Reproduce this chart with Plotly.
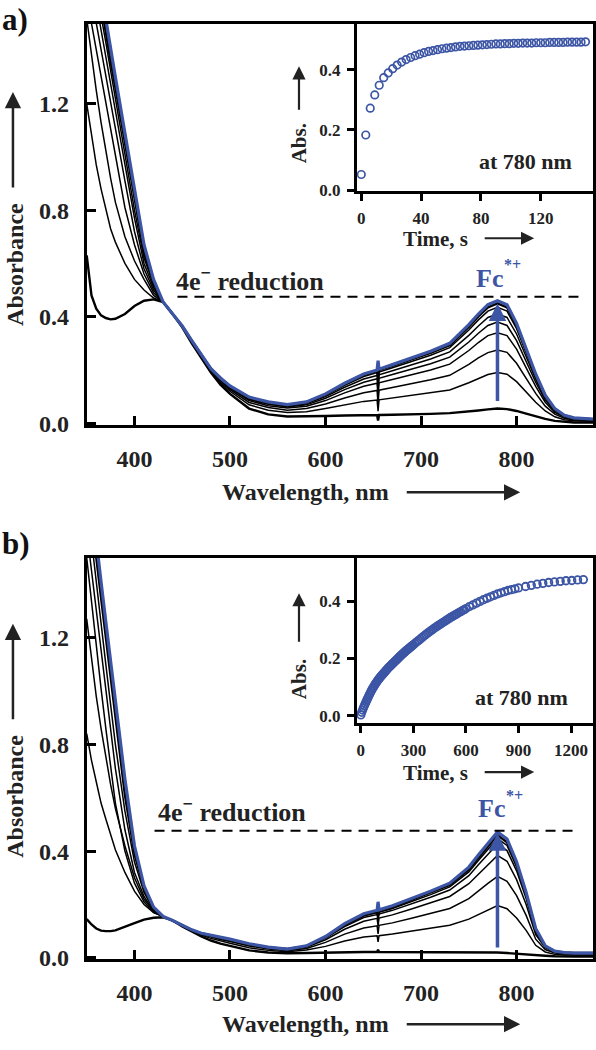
import plotly.graph_objects as go

W, H = 596, 1050
BLUE = "#3c55a5"
SERIF = "Liberation Serif, Times New Roman, serif"

# ---------------- data ----------------
wl = [350, 355, 360, 365, 370, 375, 380, 390, 400, 410, 420, 430, 440, 450, 460, 470, 480, 490, 500,
      520, 540, 560, 580, 600, 620, 640, 654, 655, 656, 670, 690, 710, 730, 750, 760, 770, 780, 790,
      800, 810, 820, 830, 840, 850, 860, 880]

# panel a spectra (a0 = initial ... a8 = final, blue)
a0 = [0.63, 0.48, 0.43, 0.405, 0.395, 0.39, 0.392, 0.41, 0.44, 0.46, 0.465, 0.455, 0.41, 0.36, 0.30, 0.245, 0.19, 0.145, 0.11,
      0.055, 0.033, 0.025, 0.025, 0.027, 0.029, 0.030, 0.031, 0.010, 0.031, 0.032, 0.033, 0.035, 0.038, 0.043, 0.048, 0.052, 0.055, 0.053,
      0.046, 0.036, 0.026, 0.016, 0.009, 0.005, 0.003, 0.003]
a1 = [1.20, 1.08, 0.97, 0.88, 0.80, 0.73, 0.68, 0.60, 0.54, 0.50, 0.47, 0.455, 0.41, 0.362, 0.303, 0.248, 0.195, 0.153, 0.12,
      0.069, 0.049, 0.040, 0.043, 0.055, 0.069, 0.082, 0.087, 0.045, 0.088, 0.095, 0.104, 0.113, 0.125, 0.152, 0.169, 0.183, 0.19, 0.184,
      0.156, 0.117, 0.079, 0.046, 0.024, 0.013, 0.009, 0.007]
a2 = [1.52, 1.38, 1.25, 1.13, 1.02, 0.92, 0.83, 0.70, 0.61, 0.54, 0.48, 0.455, 0.41, 0.363, 0.305, 0.25, 0.198, 0.159, 0.126,
      0.078, 0.059, 0.049, 0.055, 0.072, 0.095, 0.114, 0.123, 0.070, 0.124, 0.134, 0.148, 0.163, 0.18, 0.221, 0.245, 0.265, 0.275, 0.266,
      0.225, 0.168, 0.112, 0.064, 0.034, 0.019, 0.012, 0.010]
a3 = [1.60, 1.50, 1.40, 1.30, 1.20, 1.10, 1.00, 0.81, 0.67, 0.56, 0.49, 0.455, 0.41, 0.364, 0.307, 0.252, 0.20, 0.163, 0.131,
      0.085, 0.066, 0.057, 0.064, 0.085, 0.114, 0.139, 0.150, 0.100, 0.152, 0.164, 0.182, 0.20, 0.222, 0.273, 0.303, 0.329, 0.34, 0.329,
      0.278, 0.208, 0.138, 0.079, 0.041, 0.023, 0.015, 0.011]
a4 = [1.70, 1.60, 1.50, 1.40, 1.30, 1.20, 1.10, 0.91, 0.72, 0.58, 0.50, 0.455, 0.41, 0.364, 0.308, 0.253, 0.202, 0.165, 0.134,
      0.089, 0.071, 0.061, 0.069, 0.094, 0.126, 0.154, 0.167, 0.120, 0.169, 0.183, 0.203, 0.223, 0.248, 0.305, 0.338, 0.367, 0.38, 0.367,
      0.31, 0.232, 0.154, 0.087, 0.046, 0.025, 0.017, 0.013]
a5 = [1.78, 1.68, 1.58, 1.47, 1.37, 1.27, 1.17, 0.97, 0.77, 0.60, 0.51, 0.455, 0.41, 0.364, 0.309, 0.254, 0.203, 0.167, 0.136,
      0.093, 0.074, 0.064, 0.073, 0.10, 0.135, 0.166, 0.179, 0.140, 0.182, 0.197, 0.219, 0.241, 0.268, 0.33, 0.365, 0.397, 0.41, 0.397,
      0.335, 0.25, 0.165, 0.094, 0.049, 0.027, 0.018, 0.014]
a6 = [1.85, 1.74, 1.63, 1.53, 1.43, 1.32, 1.22, 1.01, 0.80, 0.62, 0.52, 0.455, 0.41, 0.365, 0.309, 0.254, 0.204, 0.168, 0.138,
      0.095, 0.077, 0.067, 0.077, 0.105, 0.142, 0.175, 0.19, 0.160, 0.192, 0.208, 0.232, 0.255, 0.284, 0.35, 0.388, 0.421, 0.435, 0.421,
      0.355, 0.265, 0.175, 0.099, 0.052, 0.028, 0.019, 0.014]
a7 = [1.90, 1.79, 1.68, 1.58, 1.47, 1.36, 1.26, 1.05, 0.84, 0.64, 0.53, 0.455, 0.41, 0.365, 0.31, 0.255, 0.205, 0.169, 0.139,
      0.097, 0.079, 0.069, 0.079, 0.108, 0.147, 0.181, 0.196, 0.170, 0.199, 0.215, 0.24, 0.264, 0.293, 0.362, 0.401, 0.435, 0.45, 0.435,
      0.367, 0.274, 0.181, 0.103, 0.054, 0.029, 0.020, 0.015]
a8 = [1.95, 1.84, 1.73, 1.62, 1.51, 1.40, 1.30, 1.09, 0.88, 0.67, 0.54, 0.455, 0.41, 0.365, 0.31, 0.255, 0.205, 0.17, 0.14,
      0.098, 0.08, 0.07, 0.08, 0.11, 0.15, 0.185, 0.20, 0.235, 0.203, 0.22, 0.245, 0.27, 0.30, 0.37, 0.41, 0.445, 0.46, 0.445,
      0.375, 0.28, 0.185, 0.105, 0.055, 0.03, 0.02, 0.015]

# panel b spectra
b0 = [0.145, 0.125, 0.11, 0.102, 0.10, 0.10, 0.103, 0.115, 0.13, 0.143, 0.15, 0.152, 0.14, 0.118, 0.098, 0.08, 0.065, 0.053, 0.045,
      0.028, 0.02, 0.017, 0.018, 0.02, 0.021, 0.022, 0.022, 0.030, 0.022, 0.022, 0.022, 0.022, 0.022, 0.021, 0.021, 0.021, 0.02, 0.018,
      0.015, 0.012, 0.01, 0.008, 0.006, 0.005, 0.005, 0.005]
b1 = [0.84, 0.74, 0.66, 0.58, 0.52, 0.46, 0.405, 0.32, 0.25, 0.20, 0.17, 0.155, 0.14, 0.12, 0.101, 0.085, 0.073, 0.063, 0.055,
      0.038, 0.028, 0.023, 0.029, 0.043, 0.063, 0.078, 0.083, 0.060, 0.083, 0.089, 0.10, 0.111, 0.122, 0.145, 0.163, 0.18, 0.196, 0.184,
      0.149, 0.103, 0.047, 0.022, 0.013, 0.011, 0.010, 0.010]
b2 = [1.27, 1.12, 0.98, 0.86, 0.75, 0.65, 0.56, 0.42, 0.30, 0.22, 0.175, 0.155, 0.14, 0.121, 0.102, 0.088, 0.078, 0.069, 0.061,
      0.044, 0.033, 0.027, 0.035, 0.058, 0.089, 0.112, 0.12, 0.09, 0.122, 0.131, 0.148, 0.166, 0.185, 0.222, 0.251, 0.279, 0.305, 0.287,
      0.233, 0.159, 0.07, 0.031, 0.018, 0.014, 0.013, 0.013]
b3 = [1.50, 1.33, 1.17, 1.01, 0.86, 0.71, 0.58, 0.40, 0.28, 0.21, 0.17, 0.155, 0.14, 0.121, 0.104, 0.09, 0.081, 0.073, 0.065,
      0.048, 0.036, 0.03, 0.04, 0.068, 0.107, 0.137, 0.148, 0.12, 0.149, 0.161, 0.183, 0.206, 0.23, 0.278, 0.314, 0.351, 0.384, 0.362,
      0.293, 0.20, 0.087, 0.038, 0.021, 0.017, 0.015, 0.015]
b4 = [1.60, 1.45, 1.30, 1.15, 1.00, 0.85, 0.71, 0.48, 0.32, 0.23, 0.175, 0.155, 0.14, 0.122, 0.104, 0.091, 0.083, 0.076, 0.068,
      0.05, 0.038, 0.031, 0.042, 0.074, 0.117, 0.151, 0.162, 0.14, 0.164, 0.178, 0.202, 0.227, 0.254, 0.308, 0.349, 0.389, 0.427, 0.402,
      0.326, 0.222, 0.096, 0.041, 0.023, 0.019, 0.017, 0.017]
b5 = [1.72, 1.56, 1.41, 1.26, 1.10, 0.95, 0.80, 0.55, 0.36, 0.245, 0.18, 0.155, 0.14, 0.122, 0.105, 0.091, 0.084, 0.077, 0.069,
      0.052, 0.039, 0.032, 0.044, 0.077, 0.122, 0.157, 0.169, 0.15, 0.171, 0.185, 0.211, 0.237, 0.266, 0.322, 0.365, 0.408, 0.447, 0.421,
      0.341, 0.232, 0.10, 0.043, 0.024, 0.019, 0.017, 0.017]
b6 = [1.80, 1.64, 1.50, 1.35, 1.20, 1.04, 0.89, 0.61, 0.39, 0.26, 0.185, 0.155, 0.14, 0.122, 0.105, 0.092, 0.084, 0.077, 0.069,
      0.052, 0.039, 0.033, 0.044, 0.078, 0.125, 0.161, 0.174, 0.16, 0.176, 0.19, 0.217, 0.244, 0.273, 0.331, 0.375, 0.419, 0.46, 0.433,
      0.351, 0.239, 0.102, 0.044, 0.024, 0.02, 0.018, 0.018]
b7 = [1.87, 1.71, 1.56, 1.41, 1.26, 1.11, 0.96, 0.67, 0.42, 0.27, 0.19, 0.155, 0.14, 0.122, 0.105, 0.092, 0.085, 0.078, 0.07,
      0.053, 0.04, 0.033, 0.045, 0.08, 0.128, 0.165, 0.178, 0.21, 0.18, 0.195, 0.222, 0.25, 0.28, 0.34, 0.385, 0.43, 0.472, 0.445,
      0.36, 0.245, 0.11, 0.045, 0.025, 0.02, 0.018, 0.018]

# inset a kinetics (780 nm)
ta = [0, 3, 6, 9, 12, 15, 18, 21, 24, 27, 30, 33, 36, 39, 42, 45, 48, 51, 54, 57, 60, 63, 66, 69, 72, 75,
      78, 81, 84, 87, 90, 93, 96, 99, 102, 105, 108, 111, 114, 117, 120, 123, 126, 129, 132, 135, 138, 141, 144, 147, 150]
ka = [0.052, 0.183, 0.272, 0.316, 0.348, 0.373, 0.389, 0.403, 0.415, 0.425, 0.433, 0.440, 0.446, 0.451, 0.456, 0.460,
      0.463, 0.466, 0.469, 0.471, 0.473, 0.475, 0.477, 0.478, 0.479, 0.480, 0.481, 0.482, 0.483, 0.484, 0.485, 0.485,
      0.486, 0.486, 0.487, 0.487, 0.488, 0.488, 0.488, 0.489, 0.489, 0.489, 0.490, 0.490, 0.490, 0.490, 0.491, 0.491,
      0.491, 0.491, 0.492]

# inset b kinetics (780 nm)
tb = [0, 5, 10, 15, 20, 25, 30, 35, 40, 45, 50, 55, 60, 65, 70, 75, 80, 85, 90, 95, 100, 105, 110, 115, 120, 125,
      130, 135, 140, 145, 150, 155, 160, 165, 170, 175, 180, 185, 190, 195, 200, 205, 210, 215, 220, 225, 230, 235,
      240, 245, 250, 255, 260, 265, 270, 275, 280, 285, 290, 295, 300,
      310, 320, 330, 340, 350, 360, 370, 380, 390, 400, 410, 420, 430, 440, 450, 460, 470, 480, 490, 500, 510, 520,
      530, 540, 550, 560, 570, 580, 590, 600,
      620, 640, 660, 680, 700, 720, 740, 760, 780, 800, 820, 840, 860, 880, 900,
      940, 973, 1006, 1039, 1072, 1105, 1138, 1171, 1204, 1237, 1270]
kb = [0.003, 0.012, 0.020, 0.028, 0.035, 0.042, 0.049, 0.056, 0.062, 0.069, 0.075, 0.081, 0.087, 0.093, 0.098, 0.103,
      0.108, 0.113, 0.117, 0.122, 0.126, 0.130, 0.134, 0.138, 0.141, 0.145, 0.148, 0.152, 0.155, 0.159, 0.162, 0.166,
      0.169, 0.172, 0.175, 0.178, 0.181, 0.184, 0.187, 0.190, 0.193, 0.196, 0.199, 0.202, 0.205, 0.208, 0.211, 0.214,
      0.217, 0.219, 0.222, 0.225, 0.228, 0.230, 0.233, 0.235, 0.238, 0.240, 0.243, 0.245, 0.248,
      0.253, 0.258, 0.263, 0.268, 0.273, 0.278, 0.283, 0.288, 0.292, 0.297, 0.301, 0.306, 0.310, 0.314, 0.318, 0.322,
      0.326, 0.330, 0.334, 0.338, 0.342, 0.346, 0.349, 0.353, 0.356, 0.360, 0.363, 0.367, 0.370, 0.374,
      0.381, 0.387, 0.393, 0.399, 0.405, 0.410, 0.415, 0.420, 0.425, 0.429, 0.433, 0.437, 0.440, 0.443, 0.446,
      0.451, 0.455, 0.459, 0.462, 0.465, 0.467, 0.469, 0.471, 0.472, 0.474, 0.475]

x_ticks = [400, 500, 600, 700, 800]
y_ticks = [0.0, 0.4, 0.8, 1.2]
ta_ticks = [0, 40, 80, 120]
tb_ticks = [0, 300, 600, 900, 1200]
k_ticks = [0.0, 0.2, 0.4]

# ---------------- figure ----------------
def px(x):
    return x / W


def py(y):
    return 1 - y / H


fig = go.Figure()

panels = [
    (["x", "y"], [a0, a1, a2, a3, a4, a5, a6, a7, a8]),
    (["x3", "y3"], [b0, b1, b2, b3, b4, b5, b6, b7]),
]
for (xa, ya), curves in panels:
    n = len(curves)
    for i, c in enumerate(curves):
        if i == n - 1:
            col, lw = BLUE, 3.2
        elif i == 0 or i == n - 2:
            col, lw = "black", 2.4
        else:
            col, lw = "black", 1.5
        fig.add_trace(go.Scatter(x=wl, y=c, mode="lines", xaxis=xa, yaxis=ya,
                                 line=dict(color=col, width=lw), showlegend=False))

fig.add_trace(go.Scatter(x=ta, y=ka, mode="markers", xaxis="x2", yaxis="y2", showlegend=False,
                         marker=dict(symbol="circle-open", size=7.5, color=BLUE, line=dict(width=1.7, color=BLUE))))
fig.add_trace(go.Scatter(x=tb, y=kb, mode="markers", xaxis="x4", yaxis="y4", showlegend=False,
                         marker=dict(symbol="circle-open", size=7.5, color=BLUE, line=dict(width=1.8, color=BLUE))))

tick_font_main = dict(family=SERIF, size=24, color="#222", weight="bold")
tick_font_in = dict(family=SERIF, size=17, color="#222", weight="bold")

main_ax = dict(showline=True, linewidth=3, linecolor="black", mirror=True, ticks="inside",
               ticklen=9, tickwidth=2.5, tickcolor="black", showgrid=False, zeroline=False,
               tickfont=tick_font_main)
in_ax = dict(showline=True, linewidth=3, linecolor="black", mirror=True, ticks="outside",
             ticklen=7, tickwidth=2.5, tickcolor="black", showgrid=False, zeroline=False,
             tickfont=tick_font_in)

fig.update_layout(
    width=W, height=H, margin=dict(l=0, r=0, t=0, b=0),
    paper_bgcolor="white", plot_bgcolor="white", showlegend=False,
    xaxis=dict(main_ax, domain=[px(87), px(595)], range=[350, 880], tickvals=x_ticks,
               ticklabelstandoff=10, anchor="y"),
    yaxis=dict(main_ax, domain=[py(430), py(24)], range=[-0.007, 1.5], tickvals=y_ticks,
               tickformat=".1f", ticklabelstandoff=10, anchor="x"),
    xaxis2=dict(in_ax, domain=[px(358), px(595)], range=[-3, 155], tickvals=ta_ticks,
                anchor="y2", ticklabelstandoff=3),
    yaxis2=dict(in_ax, domain=[py(193), py(24)], range=[-0.002, 0.552], tickvals=k_ticks,
                tickformat=".1f", anchor="x2", ticklabelstandoff=3),
    xaxis3=dict(main_ax, domain=[px(87), px(595)], range=[350, 880], tickvals=x_ticks,
                ticklabelstandoff=10, anchor="y3"),
    yaxis3=dict(main_ax, domain=[py(970), py(564)], range=[-0.004, 1.5], tickvals=y_ticks,
                tickformat=".1f", ticklabelstandoff=10, anchor="x3"),
    xaxis4=dict(in_ax, domain=[px(358), px(595)], range=[-23, 1325], tickvals=tb_ticks,
                anchor="y4", ticklabelstandoff=3),
    yaxis4=dict(in_ax, domain=[py(731), py(564)], range=[-0.024, 0.552], tickvals=k_ticks,
                tickformat=".1f", anchor="x4", ticklabelstandoff=3),
)

# dashed "4e- reduction" lines
fig.add_shape(type="line", xref="x", yref="y", x0=445, x1=867, y0=0.475, y1=0.475,
              line=dict(color="black", width=2, dash="10px,7px"))
fig.add_shape(type="line", xref="x3", yref="y3", x0=421, x1=865, y0=0.476, y1=0.476,
              line=dict(color="black", width=2, dash="10px,7px"))

ann = []


def text(x, y, s, size, color="#222", angle=0, xanchor="center"):
    ann.append(dict(x=px(x), y=py(y), xref="paper", yref="paper", text=s, showarrow=False,
                    xanchor=xanchor, yanchor="middle", textangle=angle,
                    font=dict(family=SERIF, size=size, color=color, weight="bold")))


def arrow(x0, y0, x1, y1, width=2.5, color="#222", size=1.3):
    # tail (x0, y0) -> head (x1, y1), pixel coordinates of the page
    ann.append(dict(x=px(x1), y=py(y1), xref="paper", yref="paper", ax=x0 - x1, ay=y0 - y1,
                    axref="pixel", ayref="pixel", text="", showarrow=True, arrowhead=2,
                    arrowsize=size, arrowwidth=width, arrowcolor=color))


for dy in (0, 1):
    off = 538 * dy
    # panel letters
    text(0, 20 + 530 * dy, "a)" if dy == 0 else "b)", 31, color="#111", xanchor="left")
    # y axis title
    text(15, 267 + off, "Absorbance", 24, angle=-90)
    arrow(13, 190 + off, 13, 93 + off)
    # x axis title
    text(307, 498 + off, "Wavelength, nm", 24)
    arrow(407, 498 + off, 522, 498 + off)
    # inset titles
    text(437, 242 + 540 * dy, "Time, s", 21)
    arrow(485, 241 + 540 * dy, 536, 241 + 540 * dy, width=2.2, size=1.2)
    text(300, 145 + 542 * dy, "Abs.", 21, angle=-90)
    arrow(300, 112 + 538 * dy, 300, 67 + 533 * dy, width=2.2, size=1.2)

text(527, 163, "at 780 nm", 22)
text(523, 706, "at 780 nm", 22)
text(175, 283, "4e<sup>\u2212</sup> reduction", 26, xanchor="left")
text(157, 820, "4e<sup>\u2212</sup> reduction", 26, xanchor="left")
text(476, 282, "Fc", 26, color=BLUE, xanchor="left")
text(504, 268, "*+", 16, color=BLUE, xanchor="left")
text(478, 818, "Fc", 26, color=BLUE, xanchor="left")
text(506, 805, "*+", 16, color=BLUE, xanchor="left")

# blue arrows in the spectra
ann.append(dict(x=780, y=0.45, xref="x", yref="y", ax=780, ay=0.078, axref="x", ayref="y",
                text="", showarrow=True, arrowhead=2, arrowsize=1.0, arrowwidth=3.5, arrowcolor=BLUE))
ann.append(dict(x=780, y=0.467, xref="x3", yref="y3", ax=780, ay=0.033, axref="x3", ayref="y3",
                text="", showarrow=True, arrowhead=2, arrowsize=1.0, arrowwidth=3.5, arrowcolor=BLUE))

fig.update_layout(annotations=ann)
fig.write_html("out.html", config={"displayModeBar": False},
               post_script="document.body.style.margin='0px';")
